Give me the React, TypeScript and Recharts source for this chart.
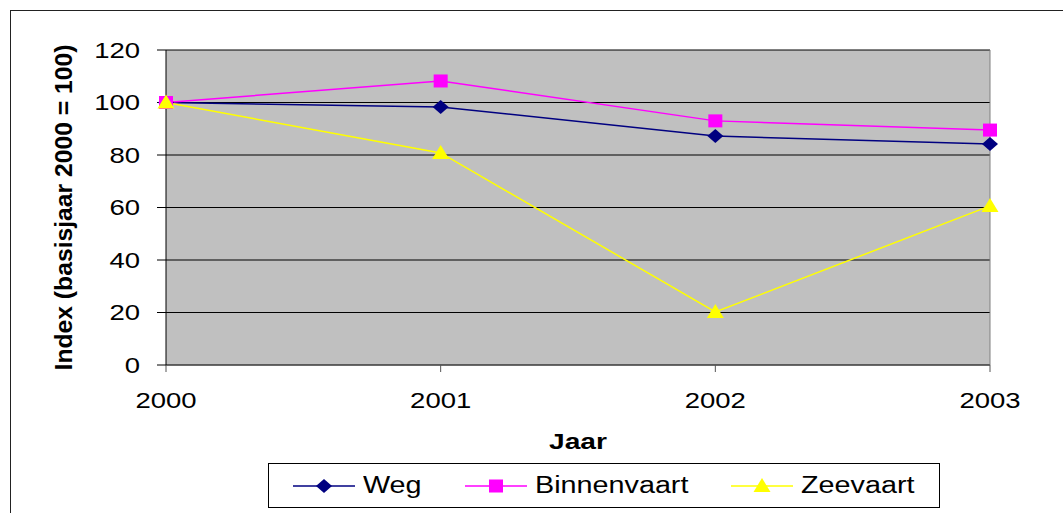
import { CartesianGrid, Legend, Line, LineChart, ReferenceLine, XAxis, YAxis } from "recharts";

const years = ["2000", "2001", "2002", "2003"];
const weg = [100, 98.3, 87.2, 84.2];
const binnenvaart = [100, 108.2, 93, 89.5];
const zeevaart = [100, 80.8, 20.2, 60.6];
const yTicks = [0, 20, 40, 60, 80, 100, 120];

const FONT = '"Liberation Sans", Arial, sans-serif';
// the original text is drawn a bit wider than Arial, so it is stretched horizontally
const STRETCH = 1.25;

type Shape = "diamond" | "square" | "triangle";

const series: { key: string; name: string; color: string; shape: Shape; legendWidth: number }[] = [
  { key: "weg", name: "Weg", color: "#000080", shape: "diamond", legendWidth: 172 },
  { key: "binnenvaart", name: "Binnenvaart", color: "#FF00FF", shape: "square", legendWidth: 266 },
  { key: "zeevaart", name: "Zeevaart", color: "#FFFF00", shape: "triangle", legendWidth: 200 }
];

const data = years.map((year, i) => ({
  year,
  weg: weg[i],
  binnenvaart: binnenvaart[i],
  zeevaart: zeevaart[i]
}));

function Marker({ cx, cy, shape, color }: { cx: number; cy: number; shape: Shape; color: string }) {
  if (shape === "diamond") {
    return <polygon points={`${cx},${cy - 7} ${cx + 8},${cy} ${cx},${cy + 7} ${cx - 8},${cy}`} fill={color} />;
  }
  if (shape === "square") {
    return <rect x={cx - 7} y={cy - 6.5} width={14} height={13} fill={color} />;
  }
  return <polygon points={`${cx},${cy - 8} ${cx + 8.5},${cy + 6} ${cx - 8.5},${cy + 6}`} fill={color} />;
}

function makeDot(shape: Shape, color: string) {
  return (props: any) => {
    if (props.cx == null || props.cy == null) return <g key={props.index} />;
    return <Marker key={props.index} cx={props.cx} cy={props.cy} shape={shape} color={color} />;
  };
}

function XTick({ x, y, payload }: any) {
  return (
    <g transform={`translate(${x},${y})`}>
      <text transform={`scale(${STRETCH},1)`} textAnchor="middle" dy="0.72em" fill="#000" fontSize={22} fontFamily={FONT}>
        {payload.value}
      </text>
    </g>
  );
}

function YTick({ x, y, payload }: any) {
  return (
    <g transform={`translate(${x},${y})`}>
      <text transform={`scale(${STRETCH},1)`} textAnchor="end" dy="0.36em" fill="#000" fontSize={22} fontFamily={FONT}>
        {payload.value}
      </text>
    </g>
  );
}

function XTitle({ viewBox }: any) {
  const cx = viewBox.x + viewBox.width / 2;
  const baseline = viewBox.y + 84;
  return (
    <g transform={`translate(${cx},${baseline})`}>
      <text transform="scale(1.28,1)" textAnchor="middle" fill="#000" fontSize={22} fontWeight="bold" fontFamily={FONT}>
        Jaar
      </text>
    </g>
  );
}

function LegendBox() {
  return (
    <div
      style={{
        boxSizing: "border-box",
        width: 672,
        height: 45,
        border: "1px solid #000",
        background: "#fff",
        display: "flex",
        alignItems: "center",
        paddingLeft: 24,
        fontFamily: FONT,
        fontSize: 23,
        color: "#000"
      }}
    >
      {series.map((s) => (
        <div key={s.key} style={{ display: "flex", alignItems: "center", width: s.legendWidth, flex: "none" }}>
          <svg width={62} height={20} style={{ marginRight: 8, flex: "none" }}>
            <line x1={0} y1={10} x2={62} y2={10} stroke={s.color} strokeWidth={1.5} />
            <Marker cx={31} cy={10} shape={s.shape} color={s.color} />
          </svg>
          <span style={{ display: "inline-block", transform: `scaleX(${STRETCH})`, transformOrigin: "left center", whiteSpace: "nowrap" }}>
            {s.name}
          </span>
        </div>
      ))}
    </div>
  );
}

export default function App() {
  return (
    <div
      style={{
        position: "fixed",
        left: 0,
        top: 0,
        width: 1063,
        height: 513,
        overflow: "hidden",
        background: "#fff"
      }}
    >
      <div
        style={{
          position: "absolute",
          left: 10,
          top: 10,
          width: 1070,
          height: 520,
          border: "1.5px solid #222"
        }}
      />
      <div style={{ position: "absolute", left: 0, top: 0 }}>
        <LineChart width={1063} height={513} data={data} margin={{ top: 50, right: 73, bottom: 0, left: 0 }}>
          <CartesianGrid vertical={false} stroke="#000" fill="#C0C0C0" fillOpacity={1} />
          <XAxis
            dataKey="year"
            height={148}
            tickSize={7}
            tickMargin={20}
            axisLine={{ stroke: "#555" }}
            tickLine={{ stroke: "#555" }}
            tick={<XTick />}
            label={{ content: (props: any) => <XTitle viewBox={props.viewBox} /> }}
          />
          <YAxis
            width={166}
            domain={[0, 120]}
            ticks={yTicks}
            interval={0}
            tickSize={9}
            tickMargin={17}
            axisLine={{ stroke: "#000" }}
            tickLine={{ stroke: "#000" }}
            tick={<YTick />}
            label={{
              value: "Index (basisjaar 2000 = 100)",
              angle: -90,
              position: "insideLeft",
              offset: 63,
              style: {
                textAnchor: "middle",
                fill: "#000",
                fontSize: 24.7,
                fontWeight: "bold",
                fontFamily: FONT
              }
            }}
          />
          <ReferenceLine x="2003" stroke="#808080" strokeWidth={1} />
          {series.map((s) => (
            <Line
              key={s.key}
              type="linear"
              dataKey={s.key}
              name={s.name}
              stroke={s.color}
              strokeWidth={1.5}
              dot={makeDot(s.shape, s.color)}
              activeDot={false}
              isAnimationActive={false}
            />
          ))}
          <Legend
            layout="horizontal"
            verticalAlign="middle"
            align="center"
            content={() => <LegendBox />}
            wrapperStyle={{ left: 268, top: 463, width: 672, height: 45 }}
          />
        </LineChart>
      </div>
    </div>
  );
}
